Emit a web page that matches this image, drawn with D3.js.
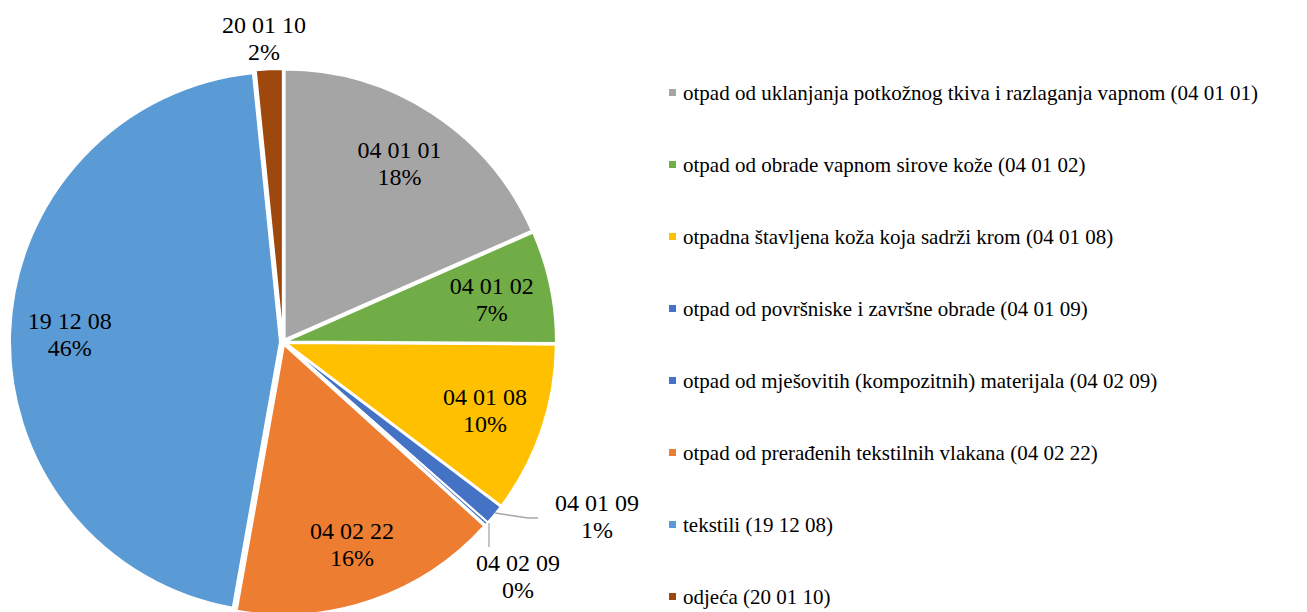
<!DOCTYPE html>
<html>
<head>
<meta charset="utf-8">
<script src="https://cdn.jsdelivr.net/npm/d3@7"></script>
<style>
  body { margin: 0; background: #fff; }
</style>
</head>
<body>
<div id="chart"></div>
<script>
// slice codes, legend names, values (percent) and colours
const codes = ['04 01 01', '04 01 02', '04 01 08', '04 01 09', '04 02 09', '04 02 22', '19 12 08', '20 01 10'];
const names = [
  'otpad od uklanjanja potkožnog tkiva i razlaganja vapnom (04 01 01)',
  'otpad od obrade vapnom sirove kože (04 01 02)',
  'otpadna štavljena koža koja sadrži krom (04 01 08)',
  'otpad od površniske i završne obrade (04 01 09)',
  'otpad od mješovitih (kompozitnih) materijala (04 02 09)',
  'otpad od prerađenih tekstilnih vlakana (04 02 22)',
  'tekstili (19 12 08)',
  'odjeća (20 01 10)'
];
const values = [18.4, 6.7, 10.2, 1.2, 0.2, 16.1, 45.6, 1.6];
const colors = ['#A5A5A5', '#70AD47', '#FFC000', '#4472C4', '#4472C4', '#ED7D31', '#5B9BD5', '#9E480E'];

const width = 1307, height = 612;
const cx = 283, cy = 342, radius = 270;
const explode = 3;
const serif = "'Liberation Serif', 'Times New Roman', serif";

const svg = d3.select('#chart').append('svg')
  .attr('width', width)
  .attr('height', height);

const data = codes.map((c, i) => ({ code: c, name: names[i], value: values[i], color: colors[i] }));

const pie = d3.pie().sort(null).value(d => d.value);
const arcs = pie(data);
const arc = d3.arc().innerRadius(0).outerRadius(radius);

const g = svg.append('g').attr('transform', `translate(${cx},${cy})`);

function midAngle(d) { return (d.startAngle + d.endAngle) / 2; }
function polar(a, r) { return [Math.sin(a) * r, -Math.cos(a) * r]; }

g.selectAll('path.slice')
  .data(arcs)
  .enter()
  .append('path')
  .attr('class', 'slice')
  .attr('d', arc)
  .attr('fill', d => d.data.color)
  .attr('stroke', '#fff')
  .attr('stroke-width', 2)
  .attr('transform', d => {
    const [x, y] = polar(midAngle(d), explode);
    return `translate(${x},${y})`;
  });

// small slices get their label outside (offset from pie centre)
const outside = {
  '04 01 09': { dx: 314, dy: 174, line: [[212, 171], [245, 176], [255, 176]] },
  '04 02 09': { dx: 235, dy: 234, line: [[206, 181], [206, 205]] },
  '20 01 10': { dx: -19, dy: -304 }
};

// leader lines
const lineGen = d3.line();
arcs.forEach(d => {
  const o = outside[d.data.code];
  if (!o || !o.line) return;
  g.append('path')
    .attr('d', lineGen(o.line))
    .attr('fill', 'none')
    .attr('stroke', '#A6A6A6')
    .attr('stroke-width', 1.3);
});

// data labels, two lines centred on the label point
const labels = g.selectAll('text.lbl')
  .data(arcs)
  .enter()
  .append('text')
  .attr('class', 'lbl')
  .attr('text-anchor', 'middle')
  .style('font-family', serif, 'important')
  .style('font-size', '24px')
  .style('fill', '#000')
  .attr('transform', d => {
    const o = outside[d.data.code];
    const p = o ? [o.dx, o.dy] : polar(midAngle(d), radius * 0.79);
    return `translate(${p[0]},${p[1]})`;
  });

labels.selectAll('tspan')
  .data(d => [d.data.code, Math.round(d.data.value) + '%'])
  .enter()
  .append('tspan')
  .attr('x', 0)
  .attr('y', (d, i) => i === 0 ? -5 : 22)
  .style('font-family', serif, 'important')
  .text(d => d);

// legend
const legendY = d3.scalePoint().domain(names).range([93, 597]);
const items = svg.append('g').attr('class', 'legend')
  .selectAll('g')
  .data(data)
  .enter()
  .append('g')
  .attr('transform', d => `translate(669,${legendY(d.name)})`);

items.append('rect')
  .attr('x', 0)
  .attr('y', -4)
  .attr('width', 7)
  .attr('height', 7)
  .attr('fill', d => d.color);

items.append('text')
  .attr('x', 14)
  .attr('y', 7)
  .style('font-family', serif, 'important')
  .style('font-size', '21px')
  .style('fill', '#000')
  .text(d => d.name);
</script>
</body>
</html>
